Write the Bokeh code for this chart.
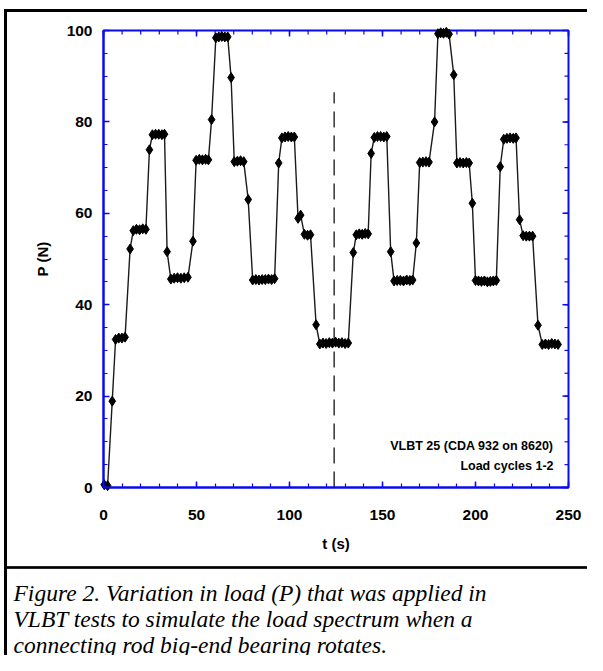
from bokeh.plotting import figure
from bokeh.models import Label, Range1d, FixedTicker, LinearAxis
from bokeh.core.properties import value
from bokeh.embed import file_html
from bokeh.resources import INLINE

# ---- data ----
t_s = [0.4, 2.2, 4.7,
       6.5, 8.2, 9.9, 11.6,
       14.3,
       16.0, 17.7, 19.4, 21.1, 22.8,
       24.7,
       26.3, 28.0, 29.7, 31.4, 32.8,
       34.2,
       36.2, 38.0, 39.8, 41.6, 43.4, 45.4,
       48.1,
       49.8, 51.5, 53.2, 54.9, 56.4,
       58.1,
       60.4, 62.0, 63.6, 65.2, 66.8,
       68.6,
       70.3, 72.0, 73.7, 75.4,
       77.8,
       80.2, 81.9, 83.6, 85.3, 87.0, 88.7, 90.4, 92.0,
       94.2,
       95.9, 97.6, 99.3, 101.0, 102.6,
       104.6, 106.0,
       108.0, 109.7, 111.3,
       114.3,
       116.3, 118.0, 119.7, 121.4, 123.1, 124.8, 126.5, 128.2, 129.9, 131.6,
       134.3,
       135.9, 137.5, 139.1, 140.7, 142.3,
       143.9,
       145.6, 147.3, 149.0, 150.7, 152.3,
       154.4,
       156.2, 157.9, 159.6, 161.3, 163.0, 164.7, 166.2,
       168.2,
       170.0, 171.7, 173.4, 175.0,
       178.0,
       179.8, 181.3, 182.8, 184.3, 185.8,
       188.3,
       190.0, 191.7, 193.4, 195.1, 196.6,
       198.3,
       200.0, 201.6, 203.2, 204.8, 206.4, 208.0, 209.6, 211.2,
       213.3,
       215.2, 216.9, 218.6, 220.3, 221.8,
       223.7,
       225.6, 227.3, 229.0, 230.7,
       233.6,
       235.9, 237.6, 239.3, 241.0, 242.7, 244.4]

load_N = [0.6, 0.4, 18.9,
          32.4, 32.7, 32.7, 32.9,
          52.2,
          56.2, 56.5, 56.4, 56.6, 56.5,
          73.9,
          77.2, 77.3, 77.3, 77.2, 77.3,
          51.6,
          45.6, 45.8, 45.9, 45.8, 45.9, 46.0,
          53.9,
          71.6, 71.8, 71.7, 71.8, 71.7,
          80.5,
          98.4, 98.6, 98.7, 98.6, 98.6,
          89.7,
          71.3, 71.4, 71.5, 71.3,
          63.0,
          45.4, 45.5, 45.4, 45.5, 45.5, 45.6, 45.5, 45.7,
          71.0,
          76.5, 76.7, 76.8, 76.7, 76.7,
          58.9, 59.6,
          55.4, 55.2, 55.3,
          35.6,
          31.4, 31.6, 31.5, 31.7, 31.6, 31.8, 31.6, 31.7, 31.5, 31.6,
          51.4,
          55.3, 55.5, 55.4, 55.6, 55.5,
          73.1,
          76.6, 76.8, 76.8, 76.7, 76.8,
          51.6,
          45.2, 45.3, 45.3, 45.2, 45.4, 45.3, 45.4,
          53.5,
          71.1, 71.2, 71.3, 71.2,
          80.0,
          99.3, 99.5, 99.4, 99.6, 99.2,
          90.3,
          71.0, 71.1, 71.0, 71.1, 71.0,
          62.2,
          45.3, 45.2, 45.1, 45.2, 45.0, 45.1, 45.2, 45.3,
          70.2,
          76.2, 76.4, 76.5, 76.4, 76.5,
          58.6,
          55.1, 55.0, 55.0, 55.0,
          35.5,
          31.3, 31.4, 31.3, 31.5, 31.4, 31.3]

x_ticks = [0, 50, 100, 150, 200, 250]
x_minor = [0, 10, 20, 30, 40, 50, 60, 70, 80, 90, 100, 110, 120, 130, 140, 150,
           160, 170, 180, 190, 200, 210, 220, 230, 240, 250]
y_ticks = [0, 20, 40, 60, 80, 100]
y_minor = [0, 5, 10, 15, 20, 25, 30, 35, 40, 45, 50, 55, 60, 65, 70, 75, 80, 85,
           90, 95, 100]
x_lim = [0, 250]
y_lim = [0, 100]
divider_t = [124]
divider_bottom = [0]
divider_top = [86.5]
note_lines = ["VLBT 25 (CDA 932 on 8620)", "Load cycles 1-2"]
caption_lines = ["Figure 2. Variation in load (P) that was applied in",
                 "VLBT tests to simulate the load spectrum when a",
                 "connecting rod big-end bearing rotates."]

# ---- layout constants (pixels inside the figure) ----
W, H = 587, 655
BOX_L, BOX_R, BOX_T, BOX_B = 103, 568, 30, 487     # plot box
BORDER_X = 5          # left page border line
BORDER_Y = 10         # top page border line
SEP_Y = 567           # separator between chart and caption
CAP_X = 13
CAP_BASE = [592, 618, 644]
BLUE = "#0A0AF0"
FONT = "Liberation Sans"
SERIF = "Liberation Serif"

kx = (BOX_R - BOX_L) / (x_lim[1] - x_lim[0])
ky = (BOX_B - BOX_T) / (y_lim[1] - y_lim[0])


def X(px):
    return x_lim[0] + (px - BOX_L) / kx


def Y(py):
    return y_lim[0] + (BOX_B - py) / ky


p = figure(width=W, height=H, output_backend="svg", toolbar_location=None,
           title=None, x_range=Range1d(X(0), X(W)), y_range=Range1d(Y(H), Y(0)),
           min_border=0, x_axis_location=None, y_axis_location=None)
p.grid.visible = False
p.outline_line_color = None
p.background_fill_color = "white"
p.border_fill_color = "white"

xax = LinearAxis(fixed_location=y_lim[0], bounds=tuple(x_lim),
                 ticker=FixedTicker(ticks=x_ticks, minor_ticks=x_minor))
yax = LinearAxis(fixed_location=x_lim[0], bounds=tuple(y_lim),
                 ticker=FixedTicker(ticks=y_ticks, minor_ticks=y_minor))
p.add_layout(xax, "below")
p.add_layout(yax, "left")

for ax in (xax, yax):
    ax.axis_line_color = BLUE
    ax.axis_line_width = 2
    ax.major_tick_line_color = BLUE
    ax.minor_tick_line_color = BLUE
    ax.major_tick_line_width = 1.5
    ax.minor_tick_line_width = 1.2
    ax.major_tick_in = 6
    ax.major_tick_out = 0
    ax.minor_tick_in = 4
    ax.minor_tick_out = 0
    ax.major_label_text_font = FONT
    ax.major_label_text_font_style = "bold"
    ax.major_label_text_font_size = "15.5px"
    ax.major_label_text_color = "black"
    ax.axis_label_text_font = FONT
    ax.axis_label_text_font_style = "bold"
    ax.axis_label_text_font_size = "15px"
    ax.axis_label_text_color = "black"

xax.major_label_standoff = 22
yax.major_label_standoff = 11
xax.axis_label = "t (s)"
yax.axis_label = "P (N)"
xax.axis_label_standoff = 12
yax.axis_label_standoff = 13

# page border lines and caption separator
p.quad(left=[X(BORDER_X - 1)], right=[X(BORDER_X + 1)], top=[Y(BORDER_Y - 1)],
       bottom=[Y(H)], color="black")
p.quad(left=[X(BORDER_X - 1)], right=[X(W)], top=[Y(BORDER_Y - 1)],
       bottom=[Y(BORDER_Y + 1)], color="black")
p.quad(left=[X(BORDER_X - 1)], right=[X(W)], top=[Y(SEP_Y - 0.8)],
       bottom=[Y(SEP_Y + 0.8)], color="black")

# plot box outline and inward ticks on the top and right edges
p.quad(left=[x_lim[0]], right=[x_lim[1]], bottom=[y_lim[0]], top=[y_lim[1]],
       fill_color=None, line_color=BLUE, line_width=2)
p.segment(x0=x_minor, y0=[y_lim[1]] * len(x_minor), x1=x_minor,
          y1=[y_lim[1] - 4 / ky] * len(x_minor), line_color=BLUE, line_width=1.2)
p.segment(x0=x_ticks, y0=[y_lim[1]] * len(x_ticks), x1=x_ticks,
          y1=[y_lim[1] - 6 / ky] * len(x_ticks), line_color=BLUE, line_width=1.5)
p.segment(x0=[x_lim[1]] * len(y_minor), y0=y_minor, x1=[x_lim[1] - 4 / kx] * len(y_minor),
          y1=y_minor, line_color=BLUE, line_width=1.2)
p.segment(x0=[x_lim[1]] * len(y_ticks), y0=y_ticks, x1=[x_lim[1] - 6 / kx] * len(y_ticks),
          y1=y_ticks, line_color=BLUE, line_width=1.5)

# data
p.segment(x0=divider_t, y0=divider_bottom, x1=divider_t, y1=divider_top,
          line_color="black", line_width=1.2, line_dash="16 8")
p.line(t_s, load_N, line_color="#1a1a1a", line_width=1.4)
p.scatter(t_s, load_N, marker="diamond", size=10, fill_color="black",
          line_color="black")

for i, txt in enumerate(note_lines):
    p.add_layout(Label(x=X(BOX_R - 15), y=Y(BOX_B - 42 + 20 * i),
                       text=txt, text_align="right", text_baseline="middle",
                       text_font=FONT, text_font_style="bold",
                       text_font_size="12.5px", text_color="black"))

# caption
p.text(x=[X(CAP_X)] * len(caption_lines), y=[Y(b) for b in CAP_BASE],
       text=caption_lines, text_font=value(SERIF), text_font_style="italic",
       text_font_size="23.5px", text_color="black",
       text_align="left", text_baseline="alphabetic")

open("out.html", "w").write(file_html(p, INLINE))
